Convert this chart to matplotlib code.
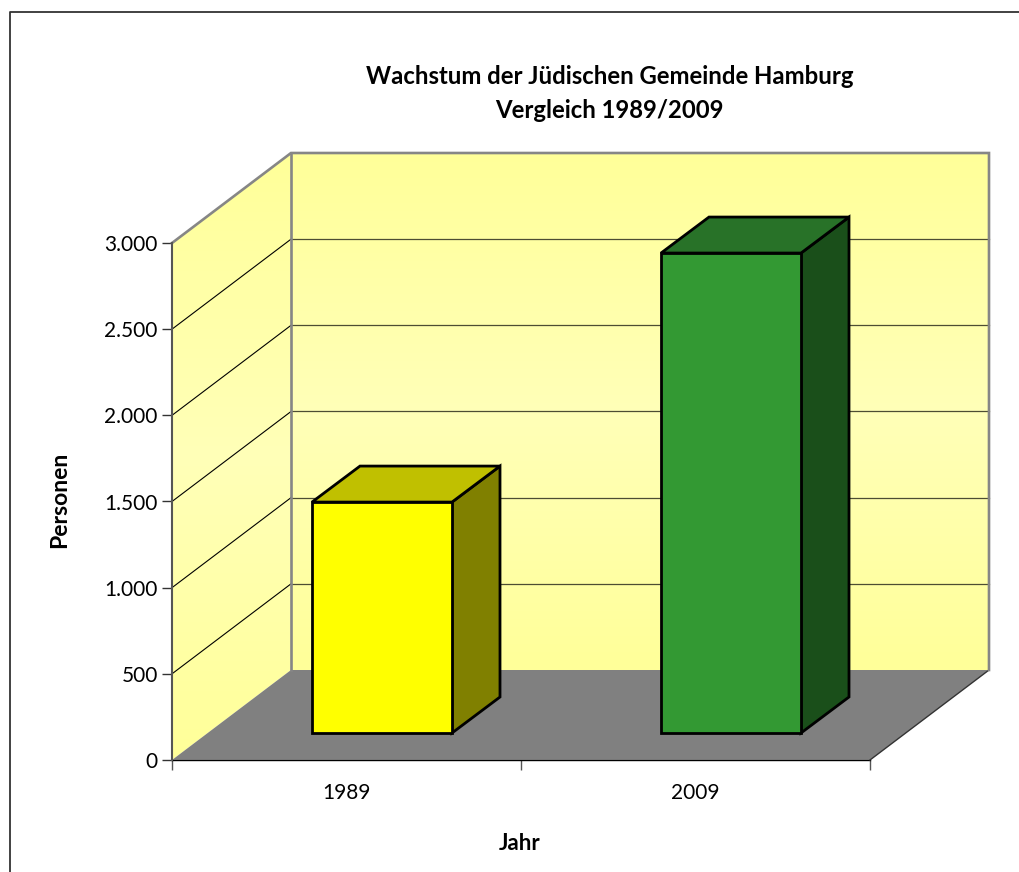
import numpy as np
import matplotlib
matplotlib.use("Agg")
import matplotlib.pyplot as plt
from matplotlib.patches import Polygon
from matplotlib.colors import LinearSegmentedColormap

years = ["1989", "2009"]
personen = [1340, 2785]
y_ticks = [0, 500, 1000, 1500, 2000, 2500, 3000]
y_labels = ["0", "500", "1.000", "1.500", "2.000", "2.500", "3.000"]
title_lines = ["Wachstum der Jüdischen Gemeinde Hamburg", "Vergleich 1989/2009"]
front_cols = ["#FFFF00", "#339933"]
top_cols = ["#C0C000", "#287228"]
side_cols = ["#808000", "#1A4F1A"]

W, H = 1019, 872
plt.rcParams['font.family'] = ['Lato', 'DejaVu Sans']
fig = plt.figure(figsize=(W/100, H/100), dpi=100, facecolor="white")

# frame of the chart area (figure pixels)
frame = fig.add_axes([0, 0, 1, 1], zorder=0)
frame.set_xlim(0, W); frame.set_ylim(H, 0); frame.axis("off")
frame.plot([10, 10, W], [H, 12, 12], color="#333333", lw=1.3, clip_on=False)

L, R, T, B = 172, 870, 243, 760
ax = fig.add_axes([L/W, 1-B/H, (R-L)/W, (B-T)/H], zorder=1)
ax.set_xlim(0, 2); ax.set_ylim(0, 3000)
ax.patch.set_alpha(0)

# depth expressed in data units of the front plane
dx = 119/349.0
dy = 90*3000/517.0
px = 2/698.0      # x units per pixel
py = 3000/517.0   # y units per pixel
YMAX = 3000

wall = LinearSegmentedColormap.from_list("w", ["#FFFF99", "#FFFFB8", "#FFFF99"])
grad = np.linspace(0, 1, 256).reshape(-1, 1)

# back wall
ax.imshow(grad, extent=(dx, 2+dx, dy, YMAX+dy), cmap=wall, aspect="auto", zorder=1, clip_on=False)
# left wall
lw_poly = Polygon([(0, 0), (dx, dy), (dx, YMAX+dy), (0, YMAX)], closed=True, fc="none", ec="none", clip_on=False)
ax.add_patch(lw_poly)
im2 = ax.imshow(grad, extent=(0, dx, 0, YMAX+dy), cmap=wall, aspect="auto", zorder=1)
im2.set_clip_on(True)
im2.set_clip_box(fig.bbox)
im2.set_clip_path(lw_poly)
ax.set_xlim(0, 2); ax.set_ylim(0, 3000)

# floor
ax.add_patch(Polygon([(0, 0), (2, 0), (2+dx, dy), (dx, dy)], closed=True, fc="#808080", ec="none",
                     zorder=2, clip_on=False))

# gridlines on left wall and back wall
for v in y_ticks[1:-1]:
    ax.plot([0, dx], [v, v+dy], color="black", lw=0.8, zorder=2.5, clip_on=False)
    ax.plot([dx, 2+dx], [v+dy, v+dy], color="#4D4D33", lw=0.9, zorder=2.5, clip_on=False)
ax.plot([0, 2], [0, 0], color="black", lw=1.0, zorder=3, clip_on=False)
ax.plot([2, 2+dx], [0, dy], color="#333333", lw=1.0, zorder=3, clip_on=False)

# wall edges
ec = "#868686"
ax.plot([0, dx, 2+dx, 2+dx], [YMAX, YMAX+dy, YMAX+dy, dy], color=ec, lw=1.9, zorder=3,
        clip_on=False, solid_joinstyle="miter")
ax.plot([dx, dx], [dy, YMAX+dy], color=ec, lw=1.9, zorder=3, clip_on=False)

# bars
bar_w = 140*px
bdx, bdy = 48*px, 36*py
base = 27*py
x0s = [(312-L)*px, (661-L)*px]
for i, v in enumerate(personen):
    x0 = x0s[i]; x1 = x0+bar_w
    top = base+v
    kw = dict(closed=True, ec="black", lw=2.0, zorder=4, clip_on=False, joinstyle="miter")
    ax.add_patch(Polygon([(x1, base), (x1+bdx, base+bdy), (x1+bdx, top+bdy), (x1, top)], fc=side_cols[i], **kw))
    ax.add_patch(Polygon([(x0, top), (x1, top), (x1+bdx, top+bdy), (x0+bdx, top+bdy)], fc=top_cols[i], **kw))
    ax.add_patch(Polygon([(x0, base), (x1, base), (x1, top), (x0, top)], fc=front_cols[i], **kw))

# axes
for s in ["top", "right"]:
    ax.spines[s].set_visible(False)
ax.spines["left"].set_color("#555555"); ax.spines["left"].set_linewidth(1.5); ax.spines["left"].set_zorder(5)
ax.spines["bottom"].set_color("#999999"); ax.spines["bottom"].set_linewidth(1.2)
ax.set_yticks(y_ticks, y_labels)
ax.set_xticks([0, 1, 2], ["", "", ""])
ax.set_xticks([0.5, 1.5], years, minor=True)
ax.tick_params(axis="y", length=7.2, width=1, color="#333333", labelsize=15, pad=3, labelcolor="black")
ax.tick_params(axis="x", which="major", length=7.2, width=1, color="#555555")
ax.tick_params(axis="x", which="minor", length=0, labelsize=15, pad=16.5)

frame.text(610, 76.5, title_lines[0], ha="center", va="center", fontsize=17.2, fontweight="bold")
frame.text(609, 110, title_lines[1], ha="center", va="center", fontsize=17.2, fontweight="bold")
frame.text(520, 843, "Jahr", ha="center", va="center", fontsize=16, fontweight="bold")
frame.text(60, 500, "Personen", rotation=90, ha="center", va="center", fontsize=16.5, fontweight="bold")

fig.savefig("out.png", dpi=100, facecolor="white")
